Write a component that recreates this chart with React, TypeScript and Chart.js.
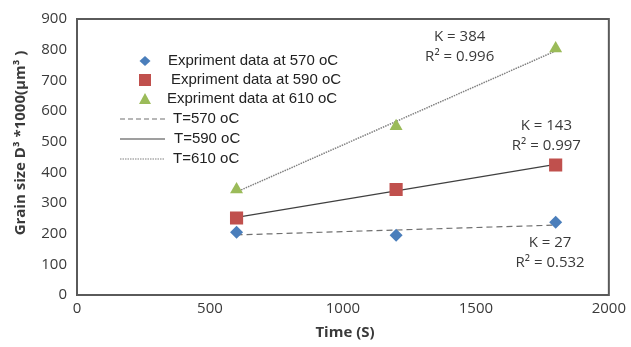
import React, { useEffect, useRef } from "react";
import { Chart, registerables } from "chart.js";

Chart.register(...registerables);

const times = [600, 1200, 1800];
const exp570 = [205, 195, 237];
const exp590 = [251, 344, 424];
const exp610 = [344, 550, 804];

const fitTimes = [600, 1800];
const fit570 = [196, 228];
const fit590 = [253, 426];
const fit610 = [336, 796];

const kLabels = ["K = 384", "K = 143", "K = 27"];
const r2Labels = ["R² = 0.996", "R² = 0.997", "R² = 0.532"];
const annotX = [1439, 1765, 1779];
const annotY = [843, 553, 170];

const legendLabels = [
  "Expriment data at 570 oC",
  "Expriment data at 590 oC",
  "Expriment data at 610 oC",
  "T=570 oC",
  "T=590 oC",
  "T=610 oC",
];

const xTitle = "Time (S)";
const yTitle = "Grain size D³ *1000(μm³ )";

const BLUE = "#4A7EBB";
const RED = "#C0504D";
const GREEN = "#9BBB59";
const TEXT = "#3a3a3a";
const AXIS = "#5a5a5a";

const toPts = (xs: number[], ys: number[]) => xs.map((x, i) => ({ x, y: ys[i] }));

const overlayPlugin = {
  id: "overlay",
  afterDraw(chart: any) {
    const { ctx, chartArea, scales } = chart;
    const xs = scales.x;
    const ys = scales.y;
    ctx.save();
    // border
    ctx.strokeStyle = AXIS;
    ctx.lineWidth = 2;
    ctx.strokeRect(chartArea.left, chartArea.top, chartArea.right - chartArea.left, chartArea.bottom - chartArea.top);

    // annotations
    ctx.fillStyle = TEXT;
    ctx.font = "15px 'Open Sans'";
    ctx.textAlign = "center";
    ctx.textBaseline = "middle";
    for (let i = 0; i < kLabels.length; i++) {
      const px = xs.getPixelForValue(annotX[i]);
      const py = ys.getPixelForValue(annotY[i]);
      ctx.fillText(kLabels[i], px, py);
      ctx.fillText(r2Labels[i], px, py + 20);
    }

    // axis titles
    ctx.font = "bold 15px 'Open Sans'";
    ctx.fillText(xTitle, 345, 333);
    ctx.save();
    ctx.translate(21, 143);
    ctx.rotate(-Math.PI / 2);
    ctx.fillText(yTitle, 0, 0);
    ctx.restore();

    // legend
    const rows = [61, 80, 99, 119, 139, 159];
    const textX = [168, 171, 167, 173, 174, 173];
    ctx.font = "15px 'Liberation Sans'";
    ctx.textAlign = "left";
    // markers
    const mx = 145;
    ctx.fillStyle = BLUE;
    ctx.beginPath();
    ctx.moveTo(mx, rows[0] - 5);
    ctx.lineTo(mx + 5.5, rows[0]);
    ctx.lineTo(mx, rows[0] + 5);
    ctx.lineTo(mx - 5.5, rows[0]);
    ctx.closePath();
    ctx.fill();
    ctx.fillStyle = RED;
    ctx.fillRect(mx - 6, rows[1] - 6, 12, 12);
    ctx.fillStyle = GREEN;
    ctx.beginPath();
    ctx.moveTo(mx, rows[2] - 6);
    ctx.lineTo(mx + 6, rows[2] + 5);
    ctx.lineTo(mx - 6, rows[2] + 5);
    ctx.closePath();
    ctx.fill();
    // line samples
    const lx0 = 120;
    const lx1 = 165;
    ctx.lineWidth = 1.2;
    ctx.strokeStyle = "#707070";
    ctx.setLineDash([5, 3]);
    ctx.beginPath();
    ctx.moveTo(lx0, rows[3]);
    ctx.lineTo(lx1, rows[3]);
    ctx.stroke();
    ctx.setLineDash([]);
    ctx.strokeStyle = "#404040";
    ctx.beginPath();
    ctx.moveTo(lx0, rows[4]);
    ctx.lineTo(lx1, rows[4]);
    ctx.stroke();
    ctx.setLineDash([1.5, 1]);
    ctx.strokeStyle = "#808080";
    ctx.beginPath();
    ctx.moveTo(lx0, rows[5]);
    ctx.lineTo(lx1, rows[5]);
    ctx.stroke();
    ctx.setLineDash([]);
    ctx.fillStyle = "#222";
    for (let i = 0; i < legendLabels.length; i++) {
      ctx.fillText(legendLabels[i], textX[i], rows[i]);
    }
    ctx.restore();
  },
};

export default function App() {
  const ref = useRef<HTMLCanvasElement | null>(null);
  useEffect(() => {
    if (!ref.current) return;
    const chart = new Chart(ref.current, {
      type: "scatter",
      data: {
        datasets: [
          {
            label: "T=570 oC",
            data: toPts(fitTimes, fit570),
            showLine: true,
            borderColor: "#707070",
            borderWidth: 1.2,
            borderDash: [6, 4],
            pointRadius: 0,
            order: 3,
          },
          {
            label: "T=590 oC",
            data: toPts(fitTimes, fit590),
            showLine: true,
            borderColor: "#404040",
            borderWidth: 1.2,
            pointRadius: 0,
            order: 3,
          },
          {
            label: "T=610 oC",
            data: toPts(fitTimes, fit610),
            showLine: true,
            borderColor: "#808080",
            borderWidth: 1.5,
            borderDash: [1.5, 1],
            pointRadius: 0,
            order: 3,
          },
          {
            label: legendLabels[0],
            data: toPts(times, exp570),
            pointStyle: "rectRot",
            pointRadius: 6.5,
            backgroundColor: BLUE,
            borderColor: BLUE,
            borderWidth: 0,
            order: 1,
          },
          {
            label: legendLabels[1],
            data: toPts(times, exp590),
            pointStyle: "rect",
            pointRadius: 9.3,
            backgroundColor: RED,
            borderColor: RED,
            borderWidth: 0,
            order: 1,
          },
          {
            label: legendLabels[2],
            data: toPts(times, exp610),
            pointStyle: "triangle",
            pointRadius: 7.5,
            backgroundColor: GREEN,
            borderColor: GREEN,
            borderWidth: 0,
            order: 1,
          },
        ],
      },
      options: {
        animation: false,
        responsive: false,
        maintainAspectRatio: false,
        layout: { padding: { top: 15, right: 19, left: 0, bottom: 0 } },
        plugins: { legend: { display: false }, tooltip: { enabled: false } },
        scales: {
          x: {
            type: "linear",
            min: 0,
            max: 2000,
            grid: { display: false, drawTicks: false },
            border: { display: false },
            ticks: {
              stepSize: 500,
              padding: 5,
              color: TEXT,
              font: { family: "'Open Sans'", size: 15 },
              maxRotation: 0,
              callback: (v: any) => String(v),
            },
            afterFit: (s: any) => {
              s.height = 52;
            },
          },
          y: {
            type: "linear",
            min: 0,
            max: 900,
            grid: { display: false, drawTicks: false },
            border: { display: false },
            ticks: {
              stepSize: 100,
              padding: 10,
              color: TEXT,
              font: { family: "'Open Sans'", size: 15 },
              callback: (v: any) => String(v),
            },
            afterFit: (s: any) => {
              s.width = 77;
            },
          },
        },
      },
      plugins: [overlayPlugin],
    });
    return () => chart.destroy();
  }, []);
  return (
    <div style={{ position: "fixed", left: 0, top: 0, width: 631, height: 347, background: "#fff" }}>
      <canvas ref={ref} width={631} height={347} style={{ width: 631, height: 347 }} />
    </div>
  );
}
